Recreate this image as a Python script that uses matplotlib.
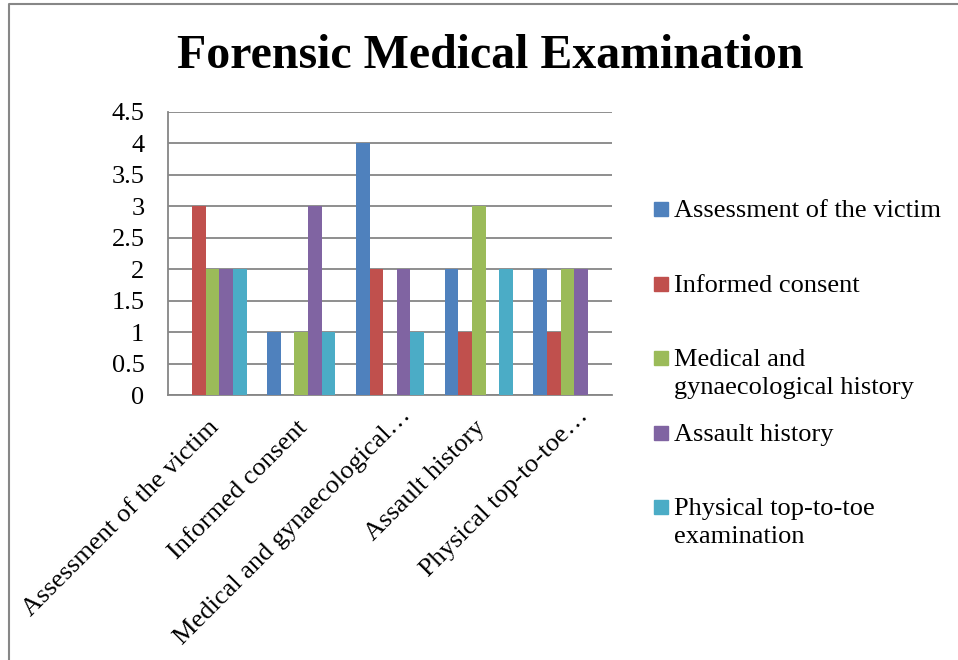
import numpy as np
import matplotlib.pyplot as plt
import matplotlib.transforms as mtransforms
from matplotlib.patches import Rectangle
from matplotlib.lines import Line2D

# categories on the x axis (as shown, truncated by the source chart)
categories = ['Assessment of the victim', 'Informed consent',
              'Medical and gynaecological\u2026', 'Assault history',
              'Physical top-to-toe\u2026']

# one series per legend entry
series_names = ['Assessment of the victim', 'Informed consent',
                'Medical and\ngynaecological history', 'Assault history',
                'Physical top-to-toe\nexamination']
assessment = [0, 1, 4, 2, 2]
consent = [3, 0, 2, 1, 1]
medical = [2, 1, 0, 3, 2]
assault = [2, 3, 2, 0, 2]
physical = [2, 1, 1, 2, 0]
colors = ['#4F81BD', '#C0504D', '#9BBB59', '#8064A2', '#4BACC6']

yticks = [0, 0.5, 1, 1.5, 2, 2.5, 3, 3.5, 4, 4.5]

plt.rcParams['font.family'] = ['Liberation Serif', 'DejaVu Serif']

fig = plt.figure(figsize=(9.58, 6.6), dpi=100)
ax = fig.add_axes([168 / 958, 1 - 395 / 660, 444 / 958, 283 / 660])

data = [assessment, consent, medical, assault, physical]
x = np.arange(len(categories))
w = 1 / 6.5
for i, (vals, c) in enumerate(zip(data, colors)):
    ax.bar(x + (i - 2) * w, vals, width=w, color=c, linewidth=0, zorder=3)

ax.set_xlim(-0.5, len(categories) - 0.5)
ax.set_ylim(0, 4.5)
ax.set_yticks(yticks)
ax.set_yticklabels([f'{v:g}' for v in yticks])
ax.set_xticks(x)
ax.set_xticklabels(categories, rotation=45, ha='right', va='center',
                   rotation_mode='anchor')
ax.tick_params(axis='y', length=0, pad=17, labelsize=19)
ax.tick_params(axis='x', length=0, pad=21, labelsize=19)
for lab in ax.get_xticklabels():
    # truncated labels sit a little further along their own direction
    dx, dy = (17, 12) if lab.get_text().endswith('\u2026') else (3, 0)
    shift = mtransforms.ScaledTranslation(dx / 100, dy / 100, fig.dpi_scale_trans)
    lab.set_transform(lab.get_transform() + shift)
ax.grid(axis='y', color='#868686', linewidth=1.3, zorder=0)
for s in ['top', 'right']:
    ax.spines[s].set_visible(False)
for s in ['left', 'bottom']:
    ax.spines[s].set_color('#868686')
    ax.spines[s].set_linewidth(1.3)

fig.text(490 / 958, 1 - 68 / 660, 'Forensic Medical Examination',
         ha='center', va='baseline', fontsize=34.5, fontweight='bold')

# legend laid out like the source: evenly spaced first lines
for i, (name, c) in enumerate(zip(series_names, colors)):
    yc = 209 + i * 74.5
    fig.patches.append(Rectangle((654 / 958, 1 - (yc + 7) / 660), 14 / 958, 14 / 660,
                                 transform=fig.transFigure, color=c))
    fig.text(674 / 958, 1 - (yc - 9) / 660, name, ha='left', va='top',
             fontsize=19, linespacing=1.36)

# outer chart border (left and top visible)
fig.lines.append(Line2D([8.5 / 958, 8.5 / 958, 1], [0, 1 - 3.5 / 660, 1 - 3.5 / 660],
                        transform=fig.transFigure, color='#878787', linewidth=1.5))

fig.savefig('out.png', dpi=100)
